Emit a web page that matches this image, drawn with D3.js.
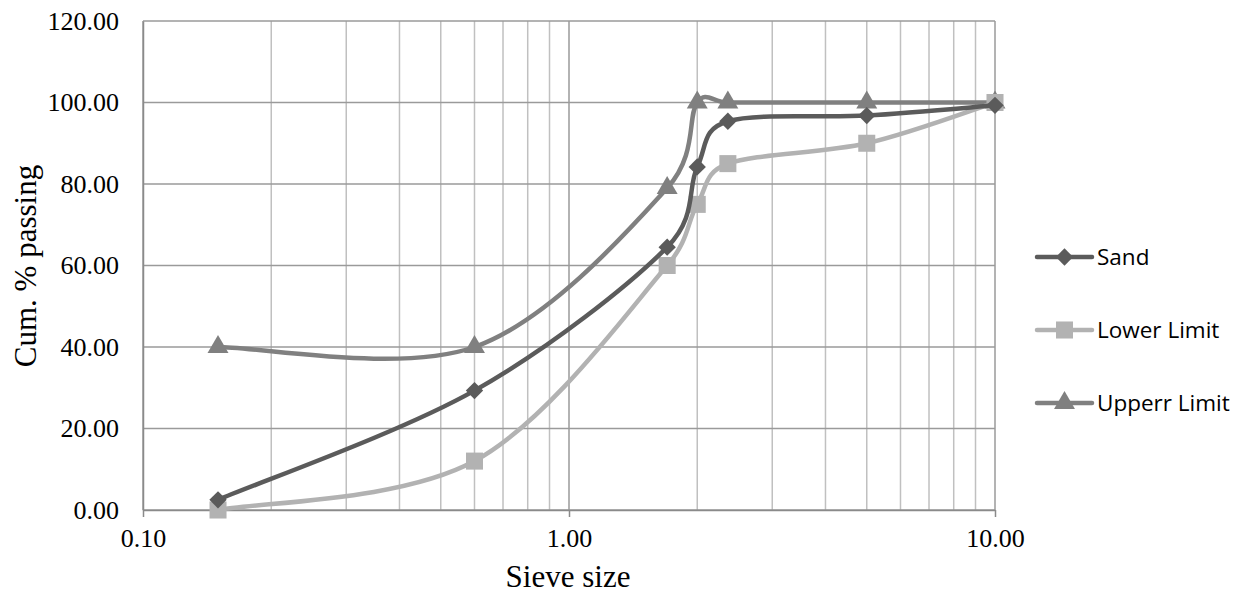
<!DOCTYPE html>
<html>
<head>
<meta charset="utf-8">
<script src="https://cdn.jsdelivr.net/npm/d3@7"></script>
<style>
  body { margin: 0; background: #fff; }
  svg { display: block; }
</style>
</head>
<body>
<script>
// sieve sizes (mm) and cumulative % passing
const sieveSizes = [0.15, 0.6, 1.7, 2.0, 2.36, 5.0, 10.0]
const sand = [2.5, 29.3, 64.5, 84.2, 95.4, 96.8, 99.3]
const lowerLimit = [0, 12, 60, 75, 85, 90, 100]
const upperLimit = [40, 40, 79, 100, 100, 100, 100]

const yTicks = [0, 20, 40, 60, 80, 100, 120]
const xTicks = [0.1, 1, 10]

const series = [
  {name: 'Sand', values: sand, color: '#5b5b5b', symbol: 'diamond'},
  {name: 'Lower Limit', values: lowerLimit, color: '#b2b2b2', symbol: 'square'},
  {name: 'Upperr Limit', values: upperLimit, color: '#808080', symbol: 'triangle'}
]

const W = 1244, H = 594
const margin = {top: 21, right: 249, bottom: 84, left: 143}
const width = W - margin.left - margin.right
const height = H - margin.top - margin.bottom

const serif = '"Liberation Serif", "Times New Roman", serif'

// Excel-like smoothing: Catmull-Rom tangents (1/6), control arms capped at half the segment
function curveExcel(context) {
  let pts
  return {
    areaStart() {},
    areaEnd() {},
    lineStart() { pts = [] },
    point(px, py) { pts.push([+px, +py]) },
    lineEnd() {
      const n = pts.length
      if (!n) return
      context.moveTo(pts[0][0], pts[0][1])
      for (let i = 0; i < n - 1; i++) {
        const p0 = pts[Math.max(i - 1, 0)], p1 = pts[i], p2 = pts[i + 1], p3 = pts[Math.min(i + 2, n - 1)]
        const lim = Math.hypot(p2[0] - p1[0], p2[1] - p1[1]) * 0.5
        let a = [(p2[0] - p0[0]) / 6, (p2[1] - p0[1]) / 6]
        let b = [(p3[0] - p1[0]) / 6, (p3[1] - p1[1]) / 6]
        const la = Math.hypot(a[0], a[1]), lb = Math.hypot(b[0], b[1])
        if (la > lim) a = a.map(v => v * lim / la)
        if (lb > lim) b = b.map(v => v * lim / lb)
        context.bezierCurveTo(p1[0] + a[0], p1[1] + a[1], p2[0] - b[0], p2[1] - b[1], p2[0], p2[1])
      }
    }
  }
}

const svg = d3.select('body').append('svg')
  .attr('width', W)
  .attr('height', H)

const g = svg.append('g')
  .attr('transform', 'translate(' + margin.left + ',' + margin.top + ')')

const x = d3.scaleLog().domain([0.1, 10]).range([0, width])
const y = d3.scaleLinear().domain([0, 120]).range([height, 0])

// minor vertical grid (2..9 in each decade)
const minor = []
for (const base of [0.1, 1]) {
  for (let k = 2; k <= 9; k++) minor.push(base * k)
}
g.append('g')
  .selectAll('line')
  .data(minor)
  .enter().append('line')
  .attr('x1', d => x(d)).attr('x2', d => x(d))
  .attr('y1', 0).attr('y2', height)
  .attr('stroke', '#c0c0c0')
  .attr('stroke-width', 1.5)

// major vertical grid
g.append('g')
  .selectAll('line')
  .data(xTicks)
  .enter().append('line')
  .attr('x1', d => x(d)).attr('x2', d => x(d))
  .attr('y1', 0).attr('y2', height)
  .attr('stroke', '#9a9a9a')
  .attr('stroke-width', 1.5)

// horizontal grid
g.append('g')
  .selectAll('line')
  .data(yTicks)
  .enter().append('line')
  .attr('x1', 0).attr('x2', width)
  .attr('y1', d => y(d)).attr('y2', d => y(d))
  .attr('stroke', '#9a9a9a')
  .attr('stroke-width', 1.5)

// x axis
const xAxis = g.append('g')
  .attr('transform', 'translate(0,' + height + ')')
  .call(d3.axisBottom(x).tickValues(xTicks).tickFormat(d3.format('.2f')).tickSize(7).tickSizeOuter(0))
xAxis.select('.domain').attr('stroke', '#8a8a8a').attr('stroke-width', 1.5)
xAxis.selectAll('.tick line').attr('stroke', '#8a8a8a').attr('stroke-width', 1.5)
xAxis.selectAll('text')
  .attr('dy', '1.05em')
  .style('font-family', serif)
  .style('font-size', '26px')
  .attr('fill', '#000')

// y axis
const yAxis = g.append('g')
  .call(d3.axisLeft(y).tickValues(yTicks).tickFormat(d3.format('.2f')).tickSize(0).tickPadding(24))
yAxis.select('.domain').attr('stroke', '#8a8a8a').attr('stroke-width', 1.5)
yAxis.selectAll('text')
  .style('font-family', serif)
  .style('font-size', '26px')
  .attr('fill', '#000')

// axis titles
svg.append('text')
  .attr('x', margin.left + x(1) - 1)
  .attr('y', 587)
  .attr('text-anchor', 'middle')
  .style('font-family', serif)
  .style('font-size', '31px')
  .text('Sieve size')

svg.append('text')
  .attr('transform', 'translate(36,' + 266 + ') rotate(-90)')
  .attr('text-anchor', 'middle')
  .style('font-family', serif)
  .style('font-size', '31px')
  .text('Cum. % passing')

const line = d3.line()
  .x((d, i) => x(sieveSizes[i]))
  .y(d => y(d))
  .curve(curveExcel)

const symbolFor = {
  diamond: d3.symbol().type(d3.symbolSquare).size(150),
  square: d3.symbol().type(d3.symbolSquare).size(290),
  triangle: d3.symbol().type(d3.symbolTriangle).size(190)
}
const rotateFor = {diamond: 45, square: 0, triangle: 0}

// draw in reverse so Sand sits on top
for (const s of series.slice().reverse()) {
  g.append('path')
    .datum(s.values)
    .attr('fill', 'none')
    .attr('stroke', s.color)
    .attr('stroke-width', 4.5)
    .attr('stroke-linecap', 'round')
    .attr('d', line)

  g.append('g')
    .selectAll('path')
    .data(s.values)
    .enter().append('path')
    .attr('transform', (d, i) => 'translate(' + x(sieveSizes[i]) + ',' + y(d) + ') rotate(' + rotateFor[s.symbol] + ')')
    .attr('d', symbolFor[s.symbol])
    .attr('fill', s.color)
}

// legend
const legend = svg.append('g')
  .attr('transform', 'translate(1037,257)')

series.forEach((s, i) => {
  const row = legend.append('g').attr('transform', 'translate(0,' + (i * 73) + ')')
  row.append('line')
    .attr('x1', 0).attr('x2', 55)
    .attr('stroke', s.color)
    .attr('stroke-width', 4.5)
    .attr('stroke-linecap', 'round')
  row.append('path')
    .attr('transform', 'translate(27.5,0) rotate(' + rotateFor[s.symbol] + ')')
    .attr('d', symbolFor[s.symbol])
    .attr('fill', s.color)
  row.append('text')
    .attr('x', 60)
    .attr('dy', '0.35em')
    .style('font-family', '"Open Sans", sans-serif')
    .style('font-size', '22.5px')
    .attr('fill', '#000')
    .text(s.name)
})
</script>
</body>
</html>
